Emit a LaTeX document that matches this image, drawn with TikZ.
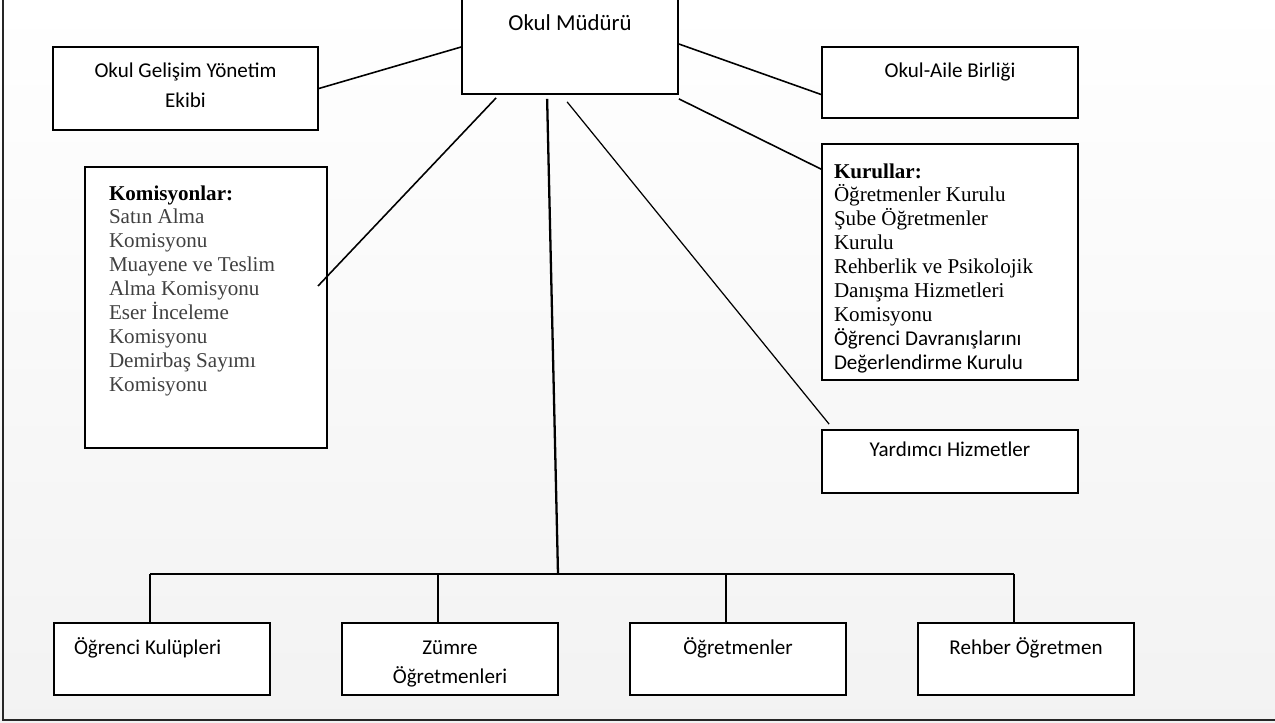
\documentclass[tikz,border=0pt]{standalone}
\usepackage{fontspec}
\setmainfont{Carlito}
\newfontfamily\listfont{Liberation Serif}
\usetikzlibrary{calc}
\newdimen\pxu \pxu=0.02cm
% box text: width, height, first baseline from top, alignment, text
\newcommand{\cellbox}[5]{\parbox[c][#2][t]{#1}{#4\rule{0pt}{#3}#5}}
\begin{document}
\begin{tikzpicture}[x=0.02cm,y=-0.02cm,
    box/.style={draw,line width=1pt,fill=white,inner sep=0pt,font=\fontsize{12}{17}\selectfont},
    link/.style={line width=0.9pt},
    thin link/.style={line width=0.7pt}]
    \useasboundingbox (0,0) rectangle (1275,723);
    \clip (0,0) rectangle (1275,723);
    \shade[top color=white,bottom color=black!5] (0,0) rectangle (1275,723);
    \draw[line width=1.4pt,black!85] (3,0) -- (3,720) -- (1280,720);

    % top
    \node[box,font=\fontsize{13}{17}\selectfont] (mud) at (570,44) {\cellbox{216\pxu}{100\pxu}{37\pxu}{\centering}{Okul Müdürü}};
    \node[box] (ogye) at (185.5,88.5) {\cellbox{265\pxu}{83\pxu}{31\pxu}{\centering}{Okul Gelişim Yönetim\\Ekibi}};
    \node[box] (oab) at (950,82.5) {\cellbox{256\pxu}{71\pxu}{31\pxu}{\centering}{Okul-Aile Birliği}};

    % side boxes
    \node[box] (kom) at (206,307.5) {\cellbox{242\pxu}{281\pxu}{33\pxu}{\raggedright\leftskip=24\pxu\listfont\fontsize{12}{13.6}\selectfont}{%
        \textbf{Komisyonlar:}\\\color{black!75}Satın Alma\\Komisyonu\\Muayene ve Teslim\\Alma Komisyonu\\Eser İnceleme\\Komisyonu\\Demirbaş Sayımı\\Komisyonu}};
    \node[box] (kur) at (950,262) {\cellbox{256\pxu}{236\pxu}{34\pxu}{\raggedright\leftskip=12\pxu\listfont\fontsize{12}{13.6}\selectfont}{%
        \textbf{Kurullar:}\\Öğretmenler Kurulu\\Şube Öğretmenler\\Kurulu\\Rehberlik ve Psikolojik\\Danışma Hizmetleri\\Komisyonu\\{\normalfont\fontsize{12}{14.5}\selectfont Öğrenci Davranışlarını}\\{\normalfont\fontsize{12}{14.5}\selectfont Değerlendirme Kurulu}}};
    \node[box] (yrd) at (950,461.5) {\cellbox{256\pxu}{63\pxu}{26\pxu}{\centering}{Yardımcı Hizmetler}};

    % bottom row
    \node[box] (okl) at (162,659) {\cellbox{216\pxu}{72\pxu}{31\pxu}{\raggedright\leftskip=20\pxu}{Öğrenci Kulüpleri}};
    \node[box] (zum) at (450,659) {\cellbox{216\pxu}{72\pxu}{31\pxu}{\centering}{Zümre\\Öğretmenleri}};
    \node[box] (ogr) at (738,659) {\cellbox{216\pxu}{72\pxu}{31\pxu}{\centering}{Öğretmenler}};
    \node[box] (reh) at (1026,659) {\cellbox{216\pxu}{72\pxu}{31\pxu}{\centering}{Rehber Öğretmen}};

    \coordinate (komend) at (318,286);
    \coordinate (yrdend) at ($(yrd.north west)+(8,-5)$);
    \coordinate (bus) at (558,574);

    \draw[link] (ogye.east) -- ($(mud.west)+(0,3)$);
    \draw[link] (mud.east) -- ($(oab.west)+(0,12)$);
    \draw[link] ($(mud.south east)+(0,4)$) -- ($(kur.north west)+(0,26)$);
    \draw[link] ($(mud.south west)+(35,3)$) -- (komend);
    \draw[link,line width=1.3pt] ($(mud.south west)+(86,4)$) -- (bus);
    \draw[thin link] ($(mud.south west)+(106,7)$) -- (yrdend);

    \draw[link] (150,574) -- (1014,574);
    \foreach \n/\x in {okl/150,zum/438,ogr/726,reh/1014}{
        \coordinate (d\n) at (\x,574);
        \draw[link] (d\n) -- (d\n |- \n.north);
    }
\end{tikzpicture}
\end{document}
